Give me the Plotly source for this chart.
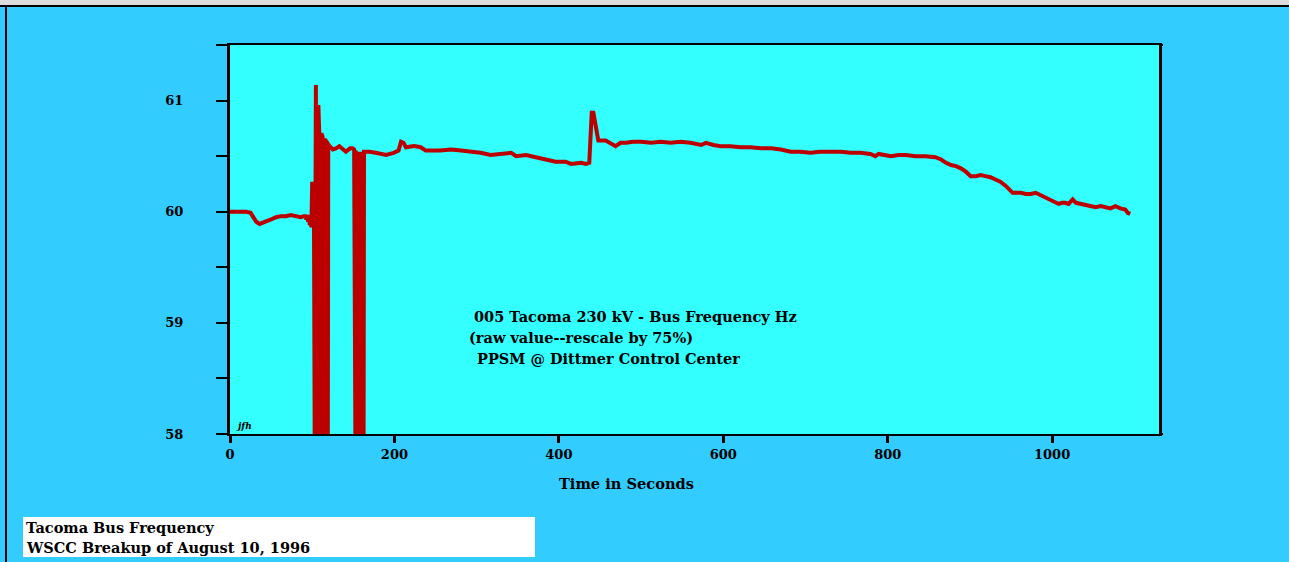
import plotly.graph_objects as go

# ---------------- data ----------------
# pre-disturbance segment
pre_t = [0, 10, 20, 25, 28, 32, 36, 40, 45, 50, 56, 62, 68, 74, 80, 86, 90,
         92, 93, 94, 95, 96, 97, 98, 99, 100, 101, 102]
pre_f = [60.00, 60.00, 60.00, 59.99, 59.96, 59.91, 59.89, 59.90, 59.92, 59.93, 59.95, 59.96, 59.96, 59.97, 59.96, 59.95, 59.96,
         59.96, 59.93, 59.97, 59.91, 59.97, 59.88, 59.96, 59.86, 60.27, 59.88, 60.27]

# first burst of signal dropouts (readings falling to the bottom of the scale)
burst1_t = [103.0, 103.5, 104.0, 104.5, 105.0, 105.5, 106.0, 106.5, 107.0, 107.5, 108.0, 108.5,
            109.0, 109.5, 110.0, 110.5, 111.0, 111.5, 112.0, 112.5, 113.0, 113.5, 114.0, 114.5,
            115.0, 115.5, 116.0, 116.5, 117.0, 117.5, 118.0, 118.5, 119.0, 119.5, 120.0]
burst1_f = [58.00, 61.14, 58.00, 61.14, 58.00, 60.96, 58.00, 60.96, 58.00, 60.96, 58.00, 60.72,
            58.00, 60.71, 58.00, 60.71, 58.00, 60.70, 58.00, 60.68, 58.00, 60.66, 58.00, 60.66,
            58.00, 60.65, 58.00, 60.64, 58.00, 60.63, 58.00, 60.62, 58.00, 60.61, 60.60]

mid_t = [125, 129, 133, 137, 141, 146, 149]
mid_f = [60.56, 60.57, 60.59, 60.57, 60.54, 60.57, 60.57]

# second burst of dropouts
burst2_t = [151.0, 151.5, 152.0, 152.5, 153.0, 153.5, 154.0, 154.5, 155.0, 155.5, 156.0, 156.5,
            157.0, 157.5, 158.0, 158.5, 159.0, 159.5, 160.0, 160.5, 161.0, 161.5, 162.0, 162.5, 163.0]
burst2_f = [60.56, 58.00, 60.55, 58.00, 60.55, 58.00, 60.54, 58.00, 60.54, 58.00, 60.54, 58.00,
            60.54, 58.00, 60.54, 58.00, 60.54, 58.00, 60.54, 58.00, 60.54, 58.00, 60.54, 58.00, 60.54]

post_t = [
    170, 177, 184, 190, 199, 205, 208, 211, 214, 224, 232, 238, 256, 269, 281, 293,
    305, 317, 330, 342, 348, 360, 372, 384, 396, 408, 415, 427, 433, 437,
    438, 439, 440, 442, 443, 444, 446, 448, 457, 463, 469, 475, 482, 490, 500,
    512, 524, 536, 548, 560, 573, 579, 588, 597, 609, 621, 633, 646, 658, 670,
    682, 694, 706, 718, 731, 743, 755, 767, 779, 785, 789, 797, 804, 813, 822,
    834, 846, 858, 865, 871, 877, 883, 889, 895, 901, 907, 913, 919, 925, 931,
    937, 944, 948, 952, 957, 962, 968, 974, 980, 986, 992, 998, 1003, 1008, 1012,
    1016, 1020, 1025, 1029, 1035, 1041, 1047, 1053, 1059, 1065, 1071, 1077, 1083,
    1089, 1092, 1095,
]
post_f = [
    60.54, 60.53, 60.52, 60.51, 60.53, 60.55, 60.63, 60.62, 60.58, 60.59, 60.58, 60.55, 60.55, 60.56, 60.55, 60.54,
    60.53, 60.51, 60.52, 60.53, 60.50, 60.51, 60.49, 60.47, 60.45, 60.45, 60.43, 60.44, 60.43, 60.44,
    60.60, 60.74, 60.89, 60.89, 60.84, 60.80, 60.72, 60.64, 60.64, 60.62, 60.59, 60.62, 60.62, 60.63, 60.63,
    60.62, 60.63, 60.62, 60.63, 60.62, 60.60, 60.62, 60.60, 60.59, 60.59, 60.58, 60.58, 60.57, 60.57, 60.56,
    60.54, 60.54, 60.53, 60.54, 60.54, 60.54, 60.53, 60.53, 60.52, 60.50, 60.52, 60.51, 60.50, 60.51, 60.51,
    60.50, 60.50, 60.49, 60.47, 60.44, 60.42, 60.41, 60.39, 60.36, 60.32, 60.32, 60.33, 60.32, 60.31, 60.29,
    60.27, 60.23, 60.20, 60.17, 60.17, 60.17, 60.16, 60.16, 60.17, 60.15, 60.13, 60.11, 60.09, 60.07, 60.08,
    60.08, 60.07, 60.11, 60.08, 60.07, 60.06, 60.05, 60.04, 60.05, 60.04, 60.03, 60.05, 60.03,
    60.02, 59.99, 59.98,
]

time_s = pre_t + burst1_t + mid_t + burst2_t + post_t
freq_hz = pre_f + burst1_f + mid_f + burst2_f + post_f

y_tick_vals = [58, 58.5, 59, 59.5, 60, 60.5, 61, 61.5]
y_tick_text = ["58", "", "59", "", "60", "", "61", ""]
x_tick_vals = [0, 200, 400, 600, 800, 1000]
x_tick_text = ["0", "200", "400", "600", "800", "1000"]

note_lines = [
    "005 Tacoma 230 kV - Bus Frequency Hz",
    "(raw value--rescale by 75%)",
    "PPSM @ Dittmer Control Center",
]
caption_lines = ["Tacoma Bus Frequency", "WSCC Breakup of August 10, 1996"]

# ---------------- layout geometry ----------------
W, H = 1289, 562
L, R, T, B = 230, 130, 45, 128
PW, PH = W - L - R, H - T - B


def fx(px):
    return (px - L) / PW


def fy(py):
    return (H - B - py) / PH


FONT = "DejaVu Serif"

fig = go.Figure()
fig.add_trace(go.Scatter(
    x=time_s, y=freq_hz, mode="lines",
    line=dict(color="#BC0000", width=4),
    showlegend=False, hoverinfo="x+y",
))

annotations = []
for text, xpx, ypx in zip(note_lines, [472, 467, 475], [316, 337, 358]):
    annotations.append(dict(
        text=text, x=fx(xpx), y=fy(ypx), xref="paper", yref="paper",
        xanchor="left", yanchor="middle", showarrow=False,
        font=dict(family=FONT, size=14.5, color="black", weight="bold"),
    ))
annotations.append(dict(
    text="Time in Seconds", x=fx(626), y=fy(483), xref="paper", yref="paper",
    xanchor="center", yanchor="middle", showarrow=False,
    font=dict(family=FONT, size=14.6, color="black", weight="bold"),
))
annotations.append(dict(
    text="<i>jfh</i>", x=fx(234), y=fy(426), xref="paper", yref="paper",
    xanchor="left", yanchor="middle", showarrow=False,
    font=dict(family=FONT, size=9, color="black", weight="bold"),
))
for text, ypx in zip(caption_lines, [527, 547]):
    annotations.append(dict(
        text=text, x=fx(24), y=fy(ypx), xref="paper", yref="paper",
        xanchor="left", yanchor="middle", showarrow=False,
        font=dict(family=FONT, size=14.5, color="black", weight="bold"),
    ))

shapes = [
    # gray strip at the very top
    dict(type="rect", xref="paper", yref="paper", x0=fx(0), x1=fx(W), y0=fy(0), y1=fy(5),
         fillcolor="#DCDCDC", line=dict(width=0), layer="below"),
    # black frame lines (top and left)
    dict(type="rect", xref="paper", yref="paper", x0=fx(0), x1=fx(W), y0=fy(5), y1=fy(7),
         fillcolor="black", line=dict(width=0)),
    dict(type="rect", xref="paper", yref="paper", x0=fx(5), x1=fx(7), y0=fy(5), y1=fy(H),
         fillcolor="black", line=dict(width=0)),
    # white caption box
    dict(type="rect", xref="paper", yref="paper", x0=fx(23), x1=fx(535), y0=fy(517), y1=fy(557),
         fillcolor="white", line=dict(width=0), layer="below"),
    # overhang of top/bottom frame lines to the right
    dict(type="line", xref="paper", yref="paper", x0=1, x1=fx(1163), y0=fy(45), y1=fy(45),
         line=dict(color="black", width=2)),
    dict(type="line", xref="paper", yref="paper", x0=1, x1=fx(1163), y0=fy(434), y1=fy(434),
         line=dict(color="black", width=2)),
]

fig.update_layout(
    width=W, height=H,
    margin=dict(l=L, r=R, t=T, b=B, pad=0),
    paper_bgcolor="#33CCFF",
    plot_bgcolor="#33FFFF",
    showlegend=False,
    annotations=annotations,
    shapes=shapes,
    xaxis=dict(
        range=[0, 1130], tickvals=x_tick_vals, ticktext=x_tick_text,
        showgrid=False, zeroline=False,
        showline=True, linecolor="black", linewidth=2, mirror=True,
        ticks="outside", ticklen=7, tickwidth=3, tickcolor="black",
        tickfont=dict(family=FONT, size=13, color="black", weight="bold"),
    ),
    yaxis=dict(
        range=[58, 61.5], tickvals=y_tick_vals, ticktext=y_tick_text,
        showgrid=False, zeroline=False,
        showline=True, linecolor="black", linewidth=3, mirror=True,
        ticks="outside", ticklen=11, tickwidth=2, tickcolor="black",
        ticklabelstandoff=30,
        tickfont=dict(family=FONT, size=13, color="black", weight="bold"),
    ),
)

fig.write_html(
    "out.html",
    config={"displayModeBar": False},
    post_script="document.body.style.margin='0';document.body.style.overflow='hidden';",
)
